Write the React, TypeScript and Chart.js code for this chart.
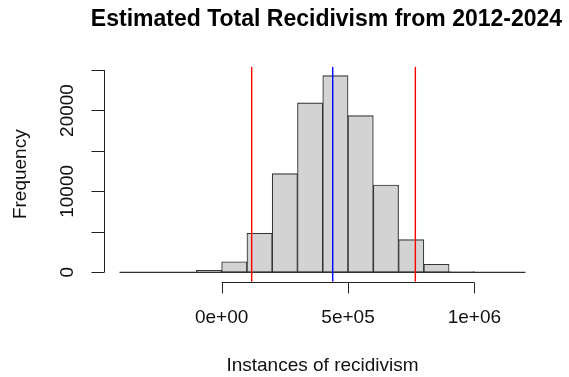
import React, { useEffect, useRef } from "react";
import { Chart, registerables } from "chart.js";

Chart.register(...registerables);

// Histogram bins (left edges, width 1e5) and frequencies
const binStarts = [-100000, 0, 100000, 200000, 300000, 400000, 500000, 600000, 700000, 800000, 900000];
const binWidth = 100000;
const frequencies = [250, 1310, 4820, 12190, 20930, 24300, 19360, 10790, 4030, 990, 100];

// Reference lines
const lowerBound = 118800;
const meanValue = 439400;
const upperBound = 766400;

// Axes
const xTicks = [0, 500000, 1000000];
const xTickLabels = ["0e+00", "5e+05", "1e+06"];
const yTicks = [0, 5000, 10000, 15000, 20000, 25000];
const yTickLabels = ["0", "", "10000", "", "20000", ""];
const xRange = [-405000, 1203000];
const yRange = [-1160, 25410];

const titleText = "Estimated Total Recidivism from 2012-2024";
const xTitle = "Instances of recidivism";
const yTitle = "Frequency";

const FONT = "'Liberation Sans', Arial, sans-serif";

const rAxesPlugin = {
  id: "rAxes",
  afterDraw(chart: any) {
    const ctx = chart.ctx;
    const xs = chart.scales.x;
    const ys = chart.scales.y;
    const area = chart.chartArea;
    ctx.save();
    ctx.strokeStyle = "#222";
    ctx.fillStyle = "#111";
    ctx.lineWidth = 1;

    // x axis
    const axY = Math.round(area.bottom) + 0.5;
    ctx.beginPath();
    ctx.moveTo(xs.getPixelForValue(xTicks[0]), axY);
    ctx.lineTo(xs.getPixelForValue(xTicks[xTicks.length - 1]), axY);
    xTicks.forEach((t) => {
      const px = Math.round(xs.getPixelForValue(t)) + 0.5;
      ctx.moveTo(px, axY);
      ctx.lineTo(px, axY + 11);
    });
    ctx.stroke();
    ctx.font = `19px ${FONT}`;
    ctx.textAlign = "center";
    ctx.textBaseline = "middle";
    xTicks.forEach((t, i) => {
      ctx.fillText(xTickLabels[i], xs.getPixelForValue(t), axY + 35);
    });

    // y axis
    const axX = Math.round(area.left - 15) + 0.5;
    ctx.beginPath();
    ctx.moveTo(axX, ys.getPixelForValue(yTicks[0]));
    ctx.lineTo(axX, ys.getPixelForValue(yTicks[yTicks.length - 1]));
    yTicks.forEach((t) => {
      const py = Math.round(ys.getPixelForValue(t)) + 0.5;
      ctx.moveTo(axX, py);
      ctx.lineTo(axX - 13, py);
    });
    ctx.stroke();
    yTicks.forEach((t, i) => {
      if (!yTickLabels[i]) return;
      ctx.save();
      ctx.translate(axX - 37, ys.getPixelForValue(t));
      ctx.rotate(-Math.PI / 2);
      ctx.fillText(yTickLabels[i], 0, 0);
      ctx.restore();
    });

    // titles
    const cx = (area.left + area.right) / 2;
    const cy = (area.top + area.bottom) / 2;
    ctx.fillText(xTitle, cx, 366);
    ctx.save();
    ctx.translate(21, cy);
    ctx.rotate(-Math.PI / 2);
    ctx.fillText(yTitle, 0, 0);
    ctx.restore();
    ctx.font = `bold 23px ${FONT}`;
    ctx.fillStyle = "#000";
    ctx.fillText(titleText, cx + 4, 20);
    ctx.restore();
  },
};

export default function App() {
  const canvasRef = useRef<HTMLCanvasElement | null>(null);

  useEffect(() => {
    if (!canvasRef.current) return;
    const barData = binStarts.map((s, i) => ({ x: s + binWidth / 2, y: frequencies[i] }));
    const vline = (v: number) => [
      { x: v, y: yRange[0] },
      { x: v, y: yRange[1] },
    ];
    const chart = new Chart(canvasRef.current, {
      type: "bar",
      data: {
        datasets: [
          {
            type: "line",
            data: vline(lowerBound),
            borderColor: "#ff0000",
            borderWidth: 1.4,
            pointRadius: 0,
            order: 1,
          } as any,
          {
            type: "line",
            data: vline(upperBound),
            borderColor: "#ff0000",
            borderWidth: 1.4,
            pointRadius: 0,
            order: 1,
          } as any,
          {
            type: "line",
            data: vline(meanValue),
            borderColor: "#0000ff",
            borderWidth: 1.4,
            pointRadius: 0,
            order: 1,
          } as any,
          {
            type: "line",
            data: [
              { x: xRange[0], y: 0 },
              { x: xRange[1], y: 0 },
            ],
            borderColor: "#333",
            borderWidth: 1.3,
            pointRadius: 0,
            order: 2,
          } as any,
          {
            type: "bar",
            data: barData as any,
            backgroundColor: "#d3d3d3",
            borderColor: "#333",
            borderWidth: 1.1,
            borderSkipped: false,
            barPercentage: 1,
            categoryPercentage: 1,
            order: 3,
          } as any,
        ],
      },
      options: {
        responsive: false,
        animation: false,
        devicePixelRatio: 1,
        layout: { padding: { left: 119.3, right: 43.3, top: 66.7, bottom: 95.3 } },
        plugins: { legend: { display: false }, tooltip: { enabled: false }, title: { display: false } },
        scales: {
          x: { type: "linear", min: xRange[0], max: xRange[1], display: false, offset: false },
          y: { type: "linear", min: yRange[0], max: yRange[1], display: false },
        },
      },
      plugins: [rAxesPlugin],
    });
    return () => chart.destroy();
  }, []);

  return (
    <div style={{ position: "fixed", left: 0, top: 0, width: 569, height: 377, background: "#fff" }}>
      <canvas ref={canvasRef} width={569} height={377} style={{ display: "block" }} />
    </div>
  );
}
